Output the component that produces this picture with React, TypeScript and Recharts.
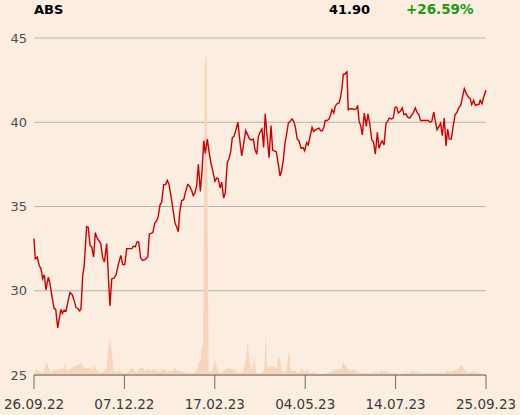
import { ComposedChart, Line, Area, XAxis, YAxis, CartesianGrid } from "recharts";

// trading-day index (0 = 26.09.22) and closing price
const closes: [number, number][] = [
  [0, 33.1], [0.7, 31.9], [1.8, 32.0], [2.9, 31.5], [3.9, 31.3], [4.8, 30.7], [5.7, 30.95],
  [6.6, 30.05], [7.9, 30.8], [8.8, 30.45], [9.8, 29.75], [11.1, 28.95], [12.0, 28.9],
  [13.1, 27.8], [14.0, 28.35], [14.9, 28.9], [15.7, 28.65], [16.6, 28.85], [17.7, 28.8],
  [18.6, 29.25], [19.9, 29.9], [21.2, 29.75], [22.3, 29.4], [23.2, 29.0], [24.2, 28.95],
  [25.3, 28.8], [26.0, 28.95], [26.9, 30.85], [27.8, 31.5], [29.1, 33.8], [30.0, 33.75],
  [31.0, 32.7], [31.9, 32.6], [33.0, 32.0], [33.9, 33.45], [35.0, 33.1], [36.0, 32.95],
  [36.9, 32.8], [38.0, 31.95], [38.9, 31.7], [40.2, 32.8], [42.0, 29.1], [43.0, 30.7],
  [44.2, 30.75], [45.4, 30.95], [46.6, 31.55], [48.0, 32.1], [49.1, 31.55], [50.2, 31.55],
  [51.3, 32.5], [53.1, 32.5], [54.2, 32.5], [54.9, 32.65], [56.0, 32.6], [57.0, 32.9],
  [57.9, 32.9], [59.0, 31.95], [60.1, 31.8], [61.4, 31.85], [62.9, 32.0], [63.8, 33.35],
  [64.7, 33.4], [65.7, 33.45], [66.9, 34.05], [67.9, 34.15], [68.7, 34.4], [69.7, 35.1],
  [70.6, 35.25], [71.7, 36.3], [72.8, 36.3], [73.7, 36.55], [74.7, 36.3], [75.8, 35.6],
  [76.9, 34.8], [78.0, 34.0], [78.9, 33.8], [79.8, 33.5], [80.6, 34.65], [81.7, 35.35],
  [82.8, 35.4], [83.9, 35.9], [85.0, 36.3], [86.1, 36.2], [87.2, 35.95], [88.1, 35.65],
  [89.0, 35.8], [90.0, 36.25], [90.9, 37.5], [92.0, 35.9], [92.9, 37.05], [93.9, 38.9],
  [94.7, 38.15], [95.9, 39.0], [96.8, 38.25], [97.9, 37.55], [99.0, 37.05], [100.1, 36.5],
  [101.1, 36.7], [101.9, 36.65], [102.9, 36.1], [103.8, 36.45], [104.9, 35.5], [105.8, 35.8],
  [106.9, 37.6], [107.9, 37.85], [108.8, 38.25], [109.7, 39.1], [110.6, 39.15], [111.7, 39.55],
  [112.8, 40.0], [113.9, 38.85], [114.9, 38.0], [116.0, 38.75], [117.1, 39.5], [118.2, 39.25],
  [119.3, 39.0], [120.4, 38.95], [121.3, 39.0], [122.2, 38.4], [123.2, 38.1], [124.1, 39.15],
  [125.2, 39.45], [126.1, 39.6], [127.0, 38.5], [127.9, 40.5], [128.9, 39.2], [130.0, 37.9],
  [131.1, 39.8], [132.0, 38.35], [132.9, 38.3], [134.0, 38.25], [135.1, 37.55], [136.1, 36.8],
  [137.0, 37.15], [137.9, 37.75], [138.8, 38.75], [139.8, 39.35], [140.7, 39.95], [141.6, 40.05],
  [142.7, 40.2], [143.6, 40.05], [144.5, 39.75], [145.6, 39.0], [146.6, 38.9], [147.7, 38.45],
  [148.8, 38.5], [149.7, 38.3], [150.8, 38.8], [151.7, 38.65], [152.8, 39.2], [153.8, 39.7],
  [154.7, 39.45], [155.8, 39.55], [156.7, 39.6], [157.6, 39.65], [158.6, 39.5], [159.5, 39.5],
  [160.4, 39.75], [161.1, 40.1], [162.2, 40.1], [163.2, 40.2], [164.1, 40.45], [164.8, 40.75],
  [165.8, 40.55], [166.6, 40.95], [167.6, 41.1], [168.7, 41.15], [169.6, 41.5], [170.5, 42.2],
  [171.1, 42.85], [172.0, 42.85], [172.6, 42.95], [173.1, 43.0], [173.8, 40.75], [174.9, 40.8],
  [176.0, 40.8], [177.2, 40.75], [178.3, 40.8], [179.0, 41.0], [179.8, 40.05], [180.7, 39.8],
  [181.6, 39.25], [182.7, 40.55], [183.8, 39.75], [184.7, 40.5], [185.8, 39.85], [186.8, 38.95],
  [187.7, 38.85], [188.8, 38.1], [189.9, 39.4], [190.8, 38.45], [191.8, 38.75], [192.6, 38.9],
  [193.6, 38.65], [194.7, 39.95], [195.6, 40.05], [196.5, 40.25], [197.6, 40.2], [198.7, 40.25],
  [199.7, 40.9], [200.6, 40.9], [201.5, 40.55], [202.6, 40.65], [203.7, 40.85], [204.6, 40.45],
  [205.7, 40.5], [206.7, 40.3], [207.8, 40.25], [208.7, 40.4], [209.8, 40.55], [210.9, 40.85],
  [212.0, 40.55], [212.9, 40.45], [213.8, 40.1], [216.2, 40.1], [218.1, 40.1], [219.2, 40.0],
  [220.0, 40.05], [221.1, 40.6], [222.0, 40.05], [222.9, 39.55], [224.0, 39.75], [224.9, 39.95],
  [225.8, 39.2], [226.9, 40.25], [227.9, 38.6], [228.8, 39.6], [229.7, 39.0], [230.8, 39.0],
  [231.7, 39.65], [232.9, 40.45], [233.8, 40.55], [234.9, 40.85], [236.0, 41.0], [236.9, 41.45],
  [238.0, 42.0], [239.1, 41.7], [240.2, 41.5], [241.3, 41.4], [242.1, 41.05], [243.2, 41.3],
  [244.1, 41.0], [245.2, 41.05], [246.1, 41.05], [246.8, 41.3], [247.8, 41.1], [248.7, 41.5],
  [250, 41.9],
];

// trading-day index and traded volume (relative units)
const volumes: [number, number][] = [
  [0, 3], [1.5, 5], [3.3, 3], [5.1, 2], [7.0, 14], [7.9, 8], [9.2, 2], [10.7, 5], [12.6, 4],
  [14.0, 6], [15.7, 6], [16.8, 10], [18.1, 4], [19.9, 6], [21.7, 8], [23.6, 9], [25.8, 12],
  [27.3, 8], [29.1, 6], [30.6, 8], [32.1, 4], [33.2, 10], [34.7, 5], [36.5, 2], [38.3, 3],
  [40.2, 8], [41.1, 25], [42.0, 36], [43.1, 21], [44.2, 4], [46.1, 3], [47.2, 5], [48.7, 2],
  [50.3, 1.5], [52.2, 3], [53.5, 7], [54.9, 6], [56.4, 2], [57.7, 5], [59.6, 8], [61.4, 4],
  [63.2, 6], [64.5, 4], [66.4, 6], [67.9, 4], [69.7, 3], [71.5, 6], [73.4, 3], [75.2, 4],
  [76.7, 4], [78.0, 8], [79.3, 4], [80.8, 4], [82.6, 3], [84.5, 2], [86.3, 1.5], [88.1, 2],
  [90.0, 4], [90.9, 12], [92.2, 15], [92.9, 28], [93.6, 31], [94.5, 310], [95.5, 323],
  [96.6, 3], [98.3, 3], [100.1, 15], [101.4, 6], [102.9, 2], [104.7, 4], [106.6, 6], [107.9, 8],
  [109.3, 5], [110.6, 6], [112.1, 3], [113.9, 2], [115.8, 3], [117.3, 18], [118.2, 34],
  [119.1, 15], [120.4, 4], [121.7, 18], [122.8, 3], [124.1, 1], [125.9, 2], [127.4, 4],
  [128.2, 44], [128.9, 8], [130.0, 8], [131.1, 9], [132.4, 8], [133.3, 8], [134.2, 6],
  [135.1, 19], [136.1, 16], [137.0, 4], [138.4, 3], [139.8, 6], [141.0, 25], [142.0, 4],
  [143.1, 4], [144.4, 5], [145.9, 2], [147.1, 3], [148.2, 8], [149.3, 3], [151.2, 6],
  [152.3, 2], [154.5, 3], [156.4, 1], [159.1, 1], [161.9, 2], [163.7, 3], [165.5, 4],
  [166.9, 6], [168.3, 5], [169.8, 6], [171.1, 13], [172.4, 9], [173.8, 6], [175.3, 4],
  [176.6, 6], [177.9, 4], [179.4, 3], [181.3, 2], [184.0, 2], [186.8, 2], [188.6, 3],
  [190.4, 2], [192.3, 5], [193.6, 3], [195.1, 4], [196.9, 2], [199.7, 2], [202.4, 1],
  [205.2, 2], [207.4, 2], [209.2, 4], [210.7, 3], [212.6, 3], [214.4, 2], [216.3, 2],
  [218.1, 2], [220.0, 2], [222.7, 2], [224.6, 3], [226.4, 2], [228.8, 4], [231.0, 3],
  [232.9, 5], [234.7, 6], [236.2, 10], [237.4, 7], [238.8, 4], [240.2, 2], [242.1, 3],
  [243.9, 3], [245.7, 2], [248.5, 1], [250, 1],
];

const dateTicks = [0, 50, 100, 150, 200, 250];
const dateLabels = ["26.09.22", "07.12.22", "17.02.23", "04.05.23", "14.07.23", "25.09.23"];
const priceTicks = [25, 30, 35, 40, 45];

const ticker = "ABS";
const lastPrice = "41.90";
const change = "+26.59%";

const BG = "#fcede1";
const FONT = "'DejaVu Sans', sans-serif";

export default function App() {
  const priceData = closes.map(([d, p]) => ({ d, price: p }));
  const volumeData = volumes.map(([d, v]) => ({ d, vol: v }));

  return (
    <div style={{ position: "absolute", left: 0, top: 0, width: 520, height: 415, background: BG, overflow: "hidden" }}>
      <svg width={520} height={20} style={{ position: "absolute", left: 0, top: 0 }}>
        <text x={34} y={14} fontFamily={FONT} fontWeight="bold" fontSize={13} fill="#000">{ticker}</text>
        <text x={370} y={14} textAnchor="end" fontFamily={FONT} fontWeight="bold" fontSize={13} fill="#000">{lastPrice}</text>
        <text x={406} y={14} fontFamily={FONT} fontWeight="bold" fontSize={13.5} fill="#1d9a12">{change}</text>
      </svg>
      <ComposedChart width={520} height={415} margin={{ top: 38, right: 34, bottom: 0, left: 0 }}>
        <CartesianGrid yAxisId="p" vertical={false} stroke="#b9b3ad" strokeWidth={1} />
        <XAxis
          type="number"
          dataKey="d"
          domain={[0, 250]}
          ticks={dateTicks}
          tickFormatter={(v) => dateLabels[dateTicks.indexOf(v)] ?? ""}
          height={40}
          tickSize={14}
          tickMargin={10}
          stroke="#6e6862"
          tick={{ fontSize: 13.5, fill: "#3a3a3a", fontFamily: FONT }}
          interval={0}
        />
        <YAxis
          yAxisId="p"
          domain={[25, 45]}
          ticks={priceTicks}
          width={34}
          axisLine={false}
          tickLine={false}
          tickSize={5}
          tick={{ fontSize: 13, fill: "#4d4d4d", fontFamily: FONT }}
        />
        <YAxis yAxisId="v" hide domain={[0, 337]} />
        <Area
          yAxisId="v"
          data={volumeData}
          dataKey="vol"
          type="linear"
          stroke="none"
          fill="#f6d5ba"
          fillOpacity={1}
          isAnimationActive={false}
        />
        <Line
          yAxisId="p"
          data={priceData}
          dataKey="price"
          type="linear"
          stroke="#cc0000"
          strokeWidth={1.4}
          dot={false}
          isAnimationActive={false}
        />
      </ComposedChart>
    </div>
  );
}
